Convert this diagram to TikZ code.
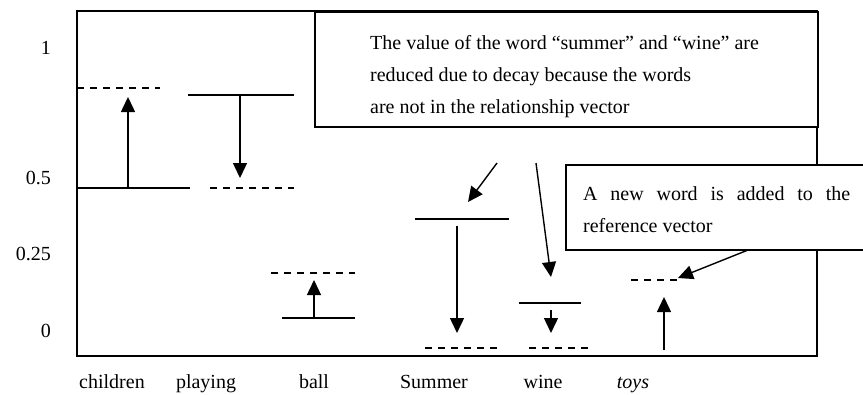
\documentclass[tikz,border=0pt]{standalone}
\usepackage{fontspec}
\setmainfont{Liberation Serif}
\usetikzlibrary{arrows.meta}
\begin{document}
\begin{tikzpicture}[x=1pt,y=-1pt,
  frame/.style={line width=1.6pt},
  level/.style={line width=1.4pt},
  newlevel/.style={line width=1.4pt, dash pattern=on 7pt off 6pt},
  change/.style={line width=1.4pt, -{Triangle[length=15pt,width=14pt]}},
  box/.style={draw, fill=white, line width=1.7pt, inner sep=0pt, anchor=north west},
  txt/.style={inner sep=0pt, align=left, anchor=west},
  lbl/.style={font=\fontsize{20}{24}\selectfont, inner sep=0pt, anchor=base},
  ylbl/.style={font=\fontsize{20}{24}\selectfont, inner sep=0pt, anchor=base east}
]
\useasboundingbox (0,0) rectangle (863,394);
\clip (0,0) rectangle (863,394);

% frame of the chart
\coordinate (fnw) at (77,11);
\coordinate (fse) at (817,356);
\draw[frame] (fnw) rectangle (fse);

% y-axis labels
\node[ylbl] (y1)   at (51,54)  {1};
\node[ylbl] (y05)  at (51,184) {0.5};
\node[ylbl] (y025) at (51,260) {0.25};
\node[ylbl] (y0)   at (51,337) {0};

% x-axis labels
\node[lbl] (lchildren) at (112,388) {children};
\node[lbl] (lplaying)  at (206,388) {playing};
\node[lbl] (lball)     at (314,388) {ball};
\node[lbl] (lsummer)   at (434,388) {Summer};
\node[lbl] (lwine)     at (543,388) {wine};
\node[lbl] (ltoys)     at (633,388) {\itshape toys};

% children
\coordinate (chOa) at (77,188);  \coordinate (chOb) at (190,188);
\coordinate (chNa) at (77,88);   \coordinate (chNb) at (160,88);
\coordinate (chS) at (128,188);  \coordinate (chT) at (128,97);
\draw[level] (chOa) -- (chOb);
\draw[newlevel] (chNa) -- (chNb);
\draw[change] (chS) -- (chT);

% playing
\coordinate (plOa) at (188,95);  \coordinate (plOb) at (294,95);
\coordinate (plNa) at (210,188); \coordinate (plNb) at (294,188);
\coordinate (plS) at (240,95);   \coordinate (plT) at (240,178);
\draw[level] (plOa) -- (plOb);
\draw[newlevel] (plNa) -- (plNb);
\draw[change] (plS) -- (plT);

% ball
\coordinate (baOa) at (282,318); \coordinate (baOb) at (355,318);
\coordinate (baNa) at (271,273); \coordinate (baNb) at (355,273);
\coordinate (baS) at (314,318);  \coordinate (baT) at (314,280);
\draw[level] (baOa) -- (baOb);
\draw[newlevel] (baNa) -- (baNb);
\draw[change] (baS) -- (baT);

% summer
\coordinate (suOa) at (415,219); \coordinate (suOb) at (509,219);
\coordinate (suNa) at (425,348); \coordinate (suNb) at (500,348);
\coordinate (suS) at (457,226);  \coordinate (suT) at (457,333);
\draw[level] (suOa) -- (suOb);
\draw[newlevel] (suNa) -- (suNb);
\draw[change] (suS) -- (suT);

% wine
\coordinate (wiOa) at (519,303); \coordinate (wiOb) at (581,303);
\coordinate (wiNa) at (529,348); \coordinate (wiNb) at (588,348);
\coordinate (wiS) at (551,310);  \coordinate (wiT) at (551,333);
\draw[level] (wiOa) -- (wiOb);
\draw[newlevel] (wiNa) -- (wiNb);
\draw[change] (wiS) -- (wiT);

% toys
\coordinate (toNa) at (631,280); \coordinate (toNb) at (678,280);
\coordinate (toS) at (664,350);  \coordinate (toT) at (664,297);
\draw[newlevel] (toNa) -- (toNb);
\draw[change] (toS) -- (toT);

% callout boxes
\node[box, minimum width=503pt, minimum height=115pt] (box1) at (314,11) {};
\node[txt, font=\fontsize{20}{32}\selectfont] (box1text) at (370,76.3)
  {The value of the word “summer” and “wine” are\\
   reduced due to decay because the words\\
   are not in the relationship vector};

\node[box, minimum width=330pt, minimum height=85pt] (box2) at (565,164) {};
\node[txt, font=\fontsize{20}{32}\selectfont] (box2text) at (583,209.2)
  {\makebox[267pt][s]{A new word is added to the}\\
   reference vector};

% callout arrows
\coordinate (c1s) at (497,163); \coordinate (c1t) at (468,202);
\coordinate (c2s) at (536,163); \coordinate (c2t) at (551,277);
\coordinate (c3s) at (748,250); \coordinate (c3t) at (678,278);
\draw[change] (c1s) -- (c1t);
\draw[change] (c2s) -- (c2t);
\draw[change] (c3s) -- (c3t);
\end{tikzpicture}
\end{document}
